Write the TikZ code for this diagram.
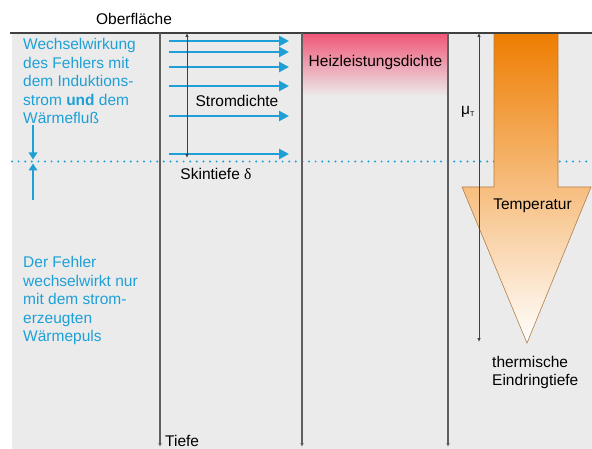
\documentclass[tikz,border=0pt]{standalone}
\usepackage{fontspec}
\setmainfont{Liberation Sans}
\newfontfamily\deltafont{Liberation Serif}
\usepackage{tikz}
\usetikzlibrary{arrows.meta,calc}
\definecolor{skinblue}{RGB}{30,160,215}
\definecolor{heatpink}{RGB}{240,85,118}
\definecolor{temporange}{RGB}{238,125,0}
\definecolor{bggray}{RGB}{235,235,235}
\definecolor{axisgray}{RGB}{95,95,95}

\begin{document}
\begin{tikzpicture}[x=1pt,y=-1pt,>=Stealth,
    lbl/.style={inner sep=0pt,font=\fontsize{15.5}{18.5}\selectfont},
    bluelbl/.style={lbl,text=skinblue,align=left,anchor=north west},
    depthline/.style={axisgray,line width=1.2pt,-{Latex[length=4pt,width=3.5pt]}},
    dimline/.style={black!75,line width=0.8pt,{Latex[length=4pt,width=3.5pt]}-{Latex[length=4pt,width=3.5pt]}},
    stromarrow/.style={skinblue,line width=2.6pt,-{Triangle[length=10pt,width=10pt]}},
    skinarrow/.style={skinblue,line width=1.7pt,-{Triangle[length=7pt,width=8.5pt]}}]
    \useasboundingbox (0,0) rectangle (592,449);
    \fill[bggray] (12,33) rectangle (592,449);
    \shade[top color=heatpink,bottom color=bggray] (303,33) rectangle (448,96);
    \draw[skinblue,line width=2.2pt,line cap=round,dash pattern=on 0pt off 6.6pt] (12,161.5) -- (592,161.5);
    \shadedraw[top color=temporange,bottom color=white,draw=temporange!45!gray,line width=0.6pt]
        (494,33) -- (558,33) -- (558,187) -- (591,187) -- (527,343) -- (462,187) -- (494,187) -- cycle;
    \coordinate (surfL) at (10,33);
    \coordinate (surfR) at (592,33);
    \draw[black!75,line width=1.5pt] (surfL) -- (surfR);
    \foreach \x/\n in {160/a,302/b,448/c} {
        \coordinate (top\n) at (\x,33);
        \coordinate (bot\n) at (\x,447);
        \draw[depthline] (top\n) -- (bot\n);
    }
    \foreach \y [count=\i] in {41,52,67,86,116,154} {
        \coordinate (js\i) at (169,\y);
        \coordinate (je\i) at (289,\y);
        \draw[stromarrow] (js\i) -- (je\i);
    }
    \coordinate (skintop) at (187,33);
    \coordinate (skinbot) at (187,158);
    \draw[dimline] (skintop) -- (skinbot);
    \coordinate (thtop) at (479,33);
    \coordinate (thbot) at (479,342);
    \draw[dimline] (thtop) -- (thbot);
    \coordinate (dnA) at (33,125);
    \coordinate (dnB) at (33,159.5);
    \coordinate (upA) at (33,200);
    \coordinate (upB) at (33,163.5);
    \draw[skinarrow] (dnA) -- (dnB);
    \draw[skinarrow] (upA) -- (upB);
    \node[lbl] (surf) at (134,19) {Oberfläche};
    \node[lbl] (strom) at (237,101) {Stromdichte};
    \node[lbl] (skin) at (216,174) {Skintiefe {\deltafont δ}};
    \node[lbl,anchor=base] (heiz) at (375.5,66.7) {Heizleistungsdichte};
    \node[lbl,anchor=base] (temp) at (532.5,210) {Temperatur};
    \node[lbl,anchor=base west] (tiefe) at (165,446.5) {Tiefe};
    \node[lbl,anchor=base west] (mut) at (461,115) {μ\raisebox{-1.5pt}{\fontsize{7}{8}\selectfont T}};
    \node[lbl,align=left,anchor=north west] (therm) at (492,356) {thermische\\Eindringtiefe};
    \node[bluelbl] (wechsel) at (23,38.5) {Wechselwirkung\\des Fehlers mit\\dem Induktions-\\strom \textbf{und} dem\\Wärmefluß};
    \node[bluelbl] (fehler) at (23,256.5) {Der Fehler\\wechselwirkt nur\\mit dem strom-\\erzeugten\\Wärmepuls};
\end{tikzpicture}
\end{document}
